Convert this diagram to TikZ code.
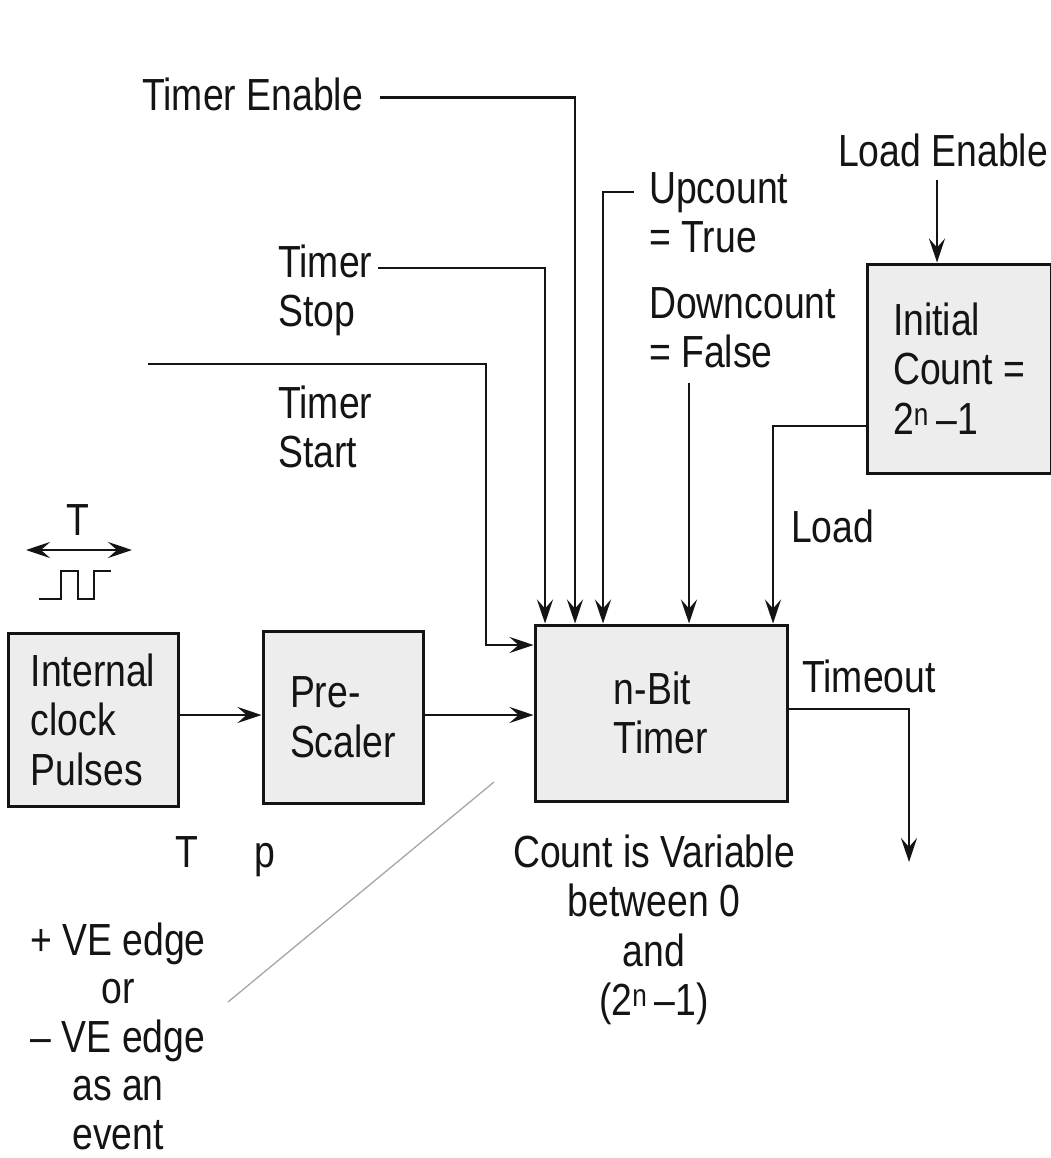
\documentclass[tikz,border=0pt]{standalone}
\usepackage{fontspec}
\setmainfont[FakeStretch=0.83]{Liberation Sans}
\usetikzlibrary{arrows.meta}
\definecolor{boxfill}{RGB}{237,237,237}
\definecolor{ink}{RGB}{20,20,20}
\begin{document}
\begin{tikzpicture}[x=1pt,y=-1pt,
  every node/.style={font=\fontsize{45}{49.5}\selectfont, inner sep=0pt, text=ink},
  lbl/.style={anchor=base west, align=left},
  blk/.style={draw=ink, line width=3pt, fill=boxfill, align=left},
  wire/.style={draw=ink, line width=2.8pt},
  tip/.tip={Stealth[length=24pt,width=16pt,inset=9pt]},
  arr/.style={wire, -tip},
  arrtwo/.style={wire, tip-tip},
  faint/.style={draw=gray!70, line width=1.3pt}
]
\useasboundingbox (0,0) rectangle (1050,1158);

% boxes
\node[blk, minimum width=170pt, minimum height=173pt] (clk) at (93,719.5) {Internal\\clock\\Pulses};
\node[blk, minimum width=160pt, minimum height=172pt] (pre) at (343,717) {Pre-\\Scaler};
\node[blk, minimum width=252pt, minimum height=176pt, xshift=-4pt] (timer) at (665,713) {n-Bit\\Timer};
\node[blk, minimum width=184pt, minimum height=209pt] (init) at (959,368.5) {Initial\\Count =\\2\textsuperscript{n}\,–1};

% labels (multi-line nodes: base anchor = last line)
\node[lbl] (en) at (142,111) {Timer Enable};
\node[lbl] (stop) at (278,326.5) {Timer\\Stop};
\node[lbl] (start) at (278,467.5) {Timer\\Start};
\node[lbl] (up) at (649,252.5) {Upcount\\= True};
\node[lbl] (down) at (649,367.5) {Downcount\\= False};
\node[lbl] (le) at (838,167) {Load Enable};
\node[lbl] (load) at (791,542) {Load};
\node[lbl] (tout) at (802,692) {Timeout};
\node[anchor=base] (tclk) at (78,535) {T};
\node[anchor=base] (tT) at (187,867) {T};
\node[anchor=base] (tp) at (265,867) {p};
\node[anchor=base, align=center] (cnt) at (654,1015.5) {Count is Variable\\between 0\\and\\(2\textsuperscript{n}\,–1)};
\node[anchor=base, align=center, font=\fontsize{45}{48.5}\selectfont] (ve) at (118,1149) {+ VE edge\\or\\– VE edge\\as an\\event};

% connectors
\coordinate (enS) at (380,97.7);
\coordinate (enC) at (575,97.7);
\draw[arr] (enS) -- (enC) -- (enC |- timer.north);

\coordinate (stS) at (378,268);
\coordinate (stC) at (545,268);
\draw[arr] (stS) -- (stC) -- (stC |- timer.north);

\coordinate (upS) at (634,192);
\coordinate (upC) at (603,192);
\draw[arr] (upS) -- (upC) -- (upC |- timer.north);

\coordinate (saS) at (148,364);
\coordinate (saC) at (486,364);
\coordinate (saD) at (486,645);
\draw[arr] (saS) -- (saC) -- (saD) -- (saD -| timer.west);

\coordinate (dnS) at (689,383);
\draw[arr] (dnS) -- (dnS |- timer.north);

\coordinate (leS) at (937,180);
\draw[arr] (leS) -- (leS |- init.north);

\coordinate (ldC) at (773,426);
\draw[arr] (ldC -| init.west) -- (ldC) -- (ldC |- timer.north);

\coordinate (yclk) at (0,715);
\draw[arr] (clk.east |- yclk) -- (pre.west |- yclk);
\draw[arr] (pre.east |- yclk) -- (timer.west |- yclk);

\coordinate (toC) at (909,709);
\coordinate (toE) at (909,862);
\draw[arr] (toC -| timer.east) -- (toC) -- (toE);

\coordinate (dg1) at (228,1002);
\coordinate (dg2) at (494,782);
\draw[faint] (dg1) -- (dg2);

% clock period symbol
\coordinate (caL) at (26,550);
\coordinate (caR) at (132,550);
\draw[arrtwo] (caL) -- (caR);
\draw[wire] (39,599) -- (61,599) -- (61,571) -- (78,571) -- (78,599) -- (94,599) -- (94,571) -- (111,571);
\end{tikzpicture}
\end{document}
